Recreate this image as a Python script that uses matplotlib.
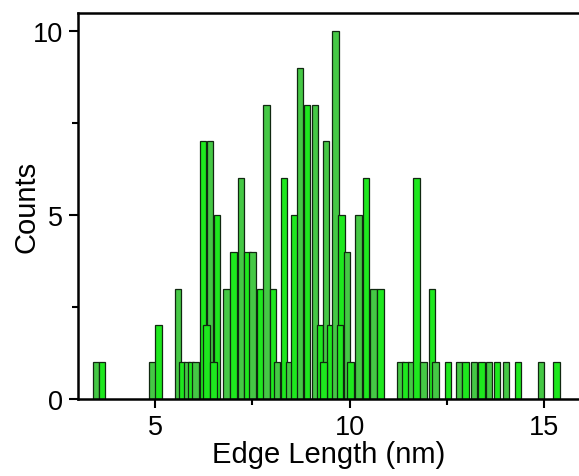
import matplotlib
matplotlib.use("Agg")
import matplotlib.pyplot as plt
from matplotlib.ticker import MultipleLocator

plt.rcParams['font.family'] = ['Liberation Sans', 'DejaVu Sans']

# bar centres (nm) and counts
edge_length = [3.483, 3.638, 4.936, 5.090, 5.591, 5.694, 5.823, 5.925, 6.041,
               6.234, 6.414, 6.594, 6.838, 7.018, 7.211, 7.378, 7.506, 7.712,
               7.866, 8.033, 8.136, 8.316, 8.458, 8.586, 8.728, 8.907, 9.113,
               9.242, 9.396, 9.512, 9.640, 9.794, 9.936, 10.026, 10.231, 10.424,
               10.617, 10.797, 11.311, 11.440, 11.594, 11.722, 11.902, 12.121,
               12.211, 12.532, 12.815, 12.982, 13.201, 13.393, 13.586, 13.792,
               14.023, 14.332, 14.923, 15.321]
counts = [1, 1, 1, 2, 3, 1, 1, 1, 1,
          7, 7, 5, 3, 4, 6, 4, 4, 3,
          8, 3, 1, 6, 1, 5, 9, 8, 8,
          2, 7, 2, 10, 5, 4, 1, 5, 6,
          3, 3, 1, 1, 1, 6, 1, 3,
          1, 1, 1, 1, 1, 1, 1, 1,
          1, 1, 1, 1]

# small bars that sit in front of taller ones
overlay_length = [6.324, 6.504, 9.332, 9.756]
overlay_counts = [2, 1, 1, 2]

bar_width = 0.16
shades = ['#45c845', '#1ee81e']

fig = plt.figure(figsize=(5.79, 4.77), dpi=100)
ax = fig.add_axes([0.1347, 0.1614, 0.8653, 0.8092])

bar_colors = [shades[i % 2] for i in range(len(edge_length))]
ax.bar(edge_length, counts, width=bar_width, color=bar_colors,
       edgecolor='#102810', linewidth=0.9)
ax.bar(overlay_length, overlay_counts, width=bar_width, color=shades[1],
       edgecolor='#102810', linewidth=0.9)

ax.set_xlim(3.02, 15.9)
ax.set_ylim(0, 10.49)

ax.xaxis.set_major_locator(MultipleLocator(5))
ax.xaxis.set_minor_locator(MultipleLocator(2.5))
ax.yaxis.set_major_locator(MultipleLocator(5))
ax.yaxis.set_minor_locator(MultipleLocator(2.5))
ax.tick_params(which='major', direction='out', length=6.5, width=1.5,
               labelsize=19.5, colors='black', pad=4)
ax.tick_params(which='minor', direction='out', length=4.5, width=1.5)

for side in ['left', 'bottom', 'top']:
    ax.spines[side].set_linewidth(1.8)
ax.spines['right'].set_visible(False)

ax.set_xlabel('Edge Length (nm)', fontsize=21, labelpad=0)
ax.set_ylabel('Counts', fontsize=21)
ax.yaxis.set_label_coords(-0.074, 0.5)

plt.savefig('out.png', dpi=100)
